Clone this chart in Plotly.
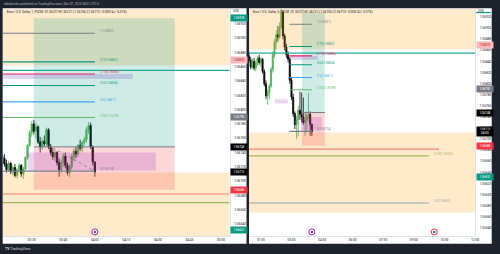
import plotly.graph_objects as go
import pandas as pd

DAY = "2023-03-07 "

# ---------------- data: left panel (EURUSD, 1 minute) ----------------
left_start = "03:16"
left_open = [1.06735, 1.06732, 1.06724, 1.06716, 1.06725, 1.06713, 1.06719, 1.06708, 1.06716, 1.06722,
             1.06710, 1.06717, 1.06733, 1.06750, 1.06768, 1.06780, 1.06770, 1.06776, 1.06755, 1.06748,
             1.06756, 1.06752, 1.06772, 1.06748, 1.06740, 1.06734, 1.06740, 1.06726, 1.06716, 1.06726,
             1.06735, 1.06722, 1.06712, 1.06720, 1.06734, 1.06742, 1.06738, 1.06750, 1.06746, 1.06754,
             1.06758, 1.06772, 1.06778, 1.06748, 1.06727]
left_high = [1.06742, 1.06738, 1.06730, 1.06728, 1.06727, 1.06722, 1.06724, 1.06718, 1.06726, 1.06724,
             1.06720, 1.06735, 1.06752, 1.06772, 1.06784, 1.06786, 1.06782, 1.06778, 1.06762, 1.06760,
             1.06764, 1.06775, 1.06774, 1.06752, 1.06746, 1.06744, 1.06742, 1.06732, 1.06730, 1.06738,
             1.06740, 1.06726, 1.06724, 1.06738, 1.06746, 1.06748, 1.06752, 1.06758, 1.06756, 1.06762,
             1.06776, 1.06783, 1.06782, 1.06750, 1.06727]
left_low = [1.06728, 1.06720, 1.06712, 1.06714, 1.06710, 1.06708, 1.06705, 1.06704, 1.06712, 1.06706,
            1.06703, 1.06715, 1.06730, 1.06748, 1.06762, 1.06765, 1.06760, 1.06752, 1.06740, 1.06744,
            1.06748, 1.06750, 1.06745, 1.06736, 1.06730, 1.06728, 1.06722, 1.06706, 1.06712, 1.06720,
            1.06718, 1.06708, 1.06706, 1.06716, 1.06728, 1.06732, 1.06734, 1.06742, 1.06740, 1.06750,
            1.06754, 1.06766, 1.06745, 1.06722, 1.06706]
left_close = [1.06732, 1.06724, 1.06716, 1.06725, 1.06713, 1.06719, 1.06708, 1.06716, 1.06722, 1.06710,
              1.06717, 1.06733, 1.06750, 1.06768, 1.06780, 1.06770, 1.06776, 1.06755, 1.06748, 1.06756,
              1.06752, 1.06772, 1.06748, 1.06740, 1.06734, 1.06740, 1.06726, 1.06716, 1.06726, 1.06735,
              1.06722, 1.06712, 1.06720, 1.06734, 1.06742, 1.06738, 1.06750, 1.06746, 1.06754, 1.06758,
              1.06772, 1.06778, 1.06748, 1.06727, 1.06713]

# ---------------- data: right panel (EURUSD, 5 minutes) ----------------
right_start = "00:55"
right_open = [1.06850, 1.06842, 1.06830, 1.06840, 1.06828, 1.06838, 1.06846, 1.06838, 1.06844, 1.06822,
              1.06800, 1.06778, 1.06784, 1.06796, 1.06826, 1.06852, 1.06874, 1.06888, 1.06884, 1.06902,
              1.06928, 1.06886, 1.06866, 1.06852, 1.06844, 1.06806, 1.06776, 1.06746, 1.06726, 1.06735,
              1.06752, 1.06745, 1.06740, 1.06730, 1.06734, 1.06742, 1.06745, 1.06727]
right_high = [1.06858, 1.06848, 1.06845, 1.06846, 1.06842, 1.06850, 1.06852, 1.06848, 1.06846, 1.06826,
              1.06806, 1.06790, 1.06800, 1.06830, 1.06858, 1.06880, 1.06896, 1.06904, 1.06910, 1.06936,
              1.06932, 1.06890, 1.06872, 1.06858, 1.06848, 1.06812, 1.06782, 1.06750, 1.06742, 1.06760,
              1.06786, 1.06784, 1.06775, 1.06746, 1.06750, 1.06783, 1.06750, 1.06727]
right_low = [1.06838, 1.06826, 1.06826, 1.06824, 1.06822, 1.06832, 1.06834, 1.06830, 1.06818, 1.06795,
             1.06772, 1.06762, 1.06772, 1.06792, 1.06820, 1.06846, 1.06862, 1.06876, 1.06880, 1.06898,
             1.06880, 1.06860, 1.06846, 1.06838, 1.06800, 1.06770, 1.06740, 1.06718, 1.06700, 1.06705,
             1.06735, 1.06730, 1.06726, 1.06706, 1.06712, 1.06736, 1.06706, 1.06706]
right_close = [1.06842, 1.06830, 1.06840, 1.06828, 1.06838, 1.06846, 1.06838, 1.06844, 1.06822, 1.06800,
               1.06778, 1.06784, 1.06796, 1.06826, 1.06852, 1.06874, 1.06888, 1.06884, 1.06902, 1.06928,
               1.06886, 1.06866, 1.06852, 1.06844, 1.06806, 1.06776, 1.06746, 1.06726, 1.06735, 1.06752,
               1.06745, 1.06740, 1.06730, 1.06734, 1.06742, 1.06745, 1.06727, 1.06713]

# price-axis tick range per panel
left_ticks = (1.06640, 1.06920)
right_ticks = (1.06540, 1.06920)
tick_step = 0.0002

# ---------------- drawings ----------------
fib_levels = ["1", "0.79", "0.705", "0.62", "0.5", "0.382", "0"]
fib_prices = [1.06907, 1.06867, 1.06850, 1.06834, 1.06811, 1.06789, 1.06714]
fib_colors = ["#787b86", "#089981", "#e91e63", "#089981", "#42a5f5", "#66bb6a", "#787b86"]
fib_span = ["02:54", "04:00"]

fib2_levels = ["0.382", "0.5"]
fib2_prices = [1.06670, 1.06585]
fib2_colors = ["#9cb95a", "#90a4ae"]
fib2_span = ["00:00", "09:44"]

zones = [(1.06862, 1.07000), (1.06568, 1.06712)]          # supply / demand zones (full width)
position_span = ["03:31", "04:38"]
position_entry, position_target, position_stop = 1.06748, 1.06928, 1.06688
purple_box = ("03:28", "04:29", 1.06715, 1.06740)
lavender_band = ("02:57", "04:18", 1.06843, 1.06850)
small_box = ("02:11", "02:49", 1.06764, 1.06772)
teal_level = 1.06855
salmon_ray = ("00:00", "10:11", 1.06682)
trade_path = ("03:40", 1.06747, "04:00", 1.06714)

target_tag = (1.06928, "1.06928", "#089981", "white")
axis_tags = [(1.06870, "1.06870", "#f7b9b9", "#b71c1c"),
             (1.06790, "1.06790", "#787b86", "white"),
             (1.06748, "1.06748", "#000000", "white"),
             (1.06688, "1.06688", "#f23645", "white"),
             (1.06632, "1.06632", "#089981", "white")]
last_price = 1.06713
event_times_left = ["04:00"]
event_times_right = ["04:00", "10:00"]

legend_left = "Euro / U.S. Dollar, 1, FXCM  O1.06727 H1.06727 L1.06706 C1.06713 −0.00014 (−0.01%)"
legend_right = "Euro / U.S. Dollar, 5, FXCM  O1.06727 H1.06727 L1.06706 C1.06713 −0.00014 (−0.01%)"
header = "tabiahmike published on TradingView.com, Mar 07, 2023 04:01 UTC-5"

# ---------------- figure ----------------
W, H = 500, 254
def px(x):
    return x / W
def py(y):
    return 1 - y / H

T = lambda s: DAY + s
UP, DOWN = "#4caf50", "#000000"
FONT = "Roboto"
DARK = "#1e222d"

left_times = pd.date_range(T(left_start), periods=len(left_open), freq="1min")
right_times = pd.date_range(T(right_start), periods=len(right_open), freq="5min")

def tick_list(lo, hi):
    n = int(round((hi - lo) / tick_step))
    return [round(lo + tick_step * i, 5) for i in range(n + 1)]

fig = go.Figure()
for xs, o, h, l, c, xa, ya in [(left_times, left_open, left_high, left_low, left_close, "x", "y"),
                               (right_times, right_open, right_high, right_low, right_close, "x2", "y2")]:
    fig.add_trace(go.Candlestick(
        x=xs, open=o, high=h, low=l, close=c, xaxis=xa, yaxis=ya,
        increasing=dict(line=dict(color=UP, width=0.8), fillcolor=UP),
        decreasing=dict(line=dict(color=DOWN, width=0.8), fillcolor=DOWN),
        showlegend=False, hoverinfo="skip"))

shapes = []
annotations = []

# panel backgrounds (frame)
for x0, x1 in [(2.7, 248.5), (251, 495.7)]:
    shapes.append(dict(type="rect", xref="paper", yref="paper", x0=px(x0), x1=px(x1),
                       y0=py(243.7), y1=py(8.3), fillcolor="white", line=dict(width=0), layer="below"))

YD = [py(236), py(9)]
panels = [dict(x="x", y="y", dom=[px(3), px(231.5)], axx=231.5, leg=legend_left, events=event_times_left),
          dict(x="x2", y="y2", dom=[px(251), px(479)], axx=479, leg=legend_right, events=event_times_right)]

for p in panels:
    xr, yr = p["x"], p["y"]
    xd, yd = xr + " domain", yr + " domain"
    # zones
    for lo, hi in zones:
        shapes.append(dict(type="rect", xref=xd, yref=yr, x0=0, x1=1, y0=lo, y1=hi,
                           fillcolor="rgba(255,152,0,0.2)", line=dict(width=0)))
    # position tool
    shapes.append(dict(type="rect", xref=xr, yref=yr, x0=T(position_span[0]), x1=T(position_span[1]),
                       y0=position_entry, y1=position_target, fillcolor="rgba(8,153,129,0.2)", line=dict(width=0)))
    shapes.append(dict(type="rect", xref=xr, yref=yr, x0=T(position_span[0]), x1=T(position_span[1]),
                       y0=position_stop, y1=position_entry, fillcolor="rgba(242,54,69,0.2)", line=dict(width=0)))
    shapes.append(dict(type="line", xref=xr, yref=yr, x0=T(position_span[0]), x1=T(position_span[1]),
                       y0=position_entry, y1=position_entry, line=dict(color="#787b86", width=1)))
    # purple boxes
    for (a, b, lo, hi), col in [(purple_box, "rgba(156,39,176,0.2)"),
                                (lavender_band, "rgba(126,87,194,0.25)"),
                                (small_box, "rgba(156,39,176,0.2)")]:
        shapes.append(dict(type="rect", xref=xr, yref=yr, x0=T(a), x1=T(b), y0=lo, y1=hi,
                           fillcolor=col, line=dict(width=0)))
    shapes.append(dict(type="line", xref=xr, yref=yr, x0=T(trade_path[0]), y0=trade_path[1],
                       x1=T(trade_path[2]), y1=trade_path[3], line=dict(color="#787b86", width=0.8, dash="dot")))
    # teal level
    shapes.append(dict(type="line", xref=xd, yref=yr, x0=0, x1=1, y0=teal_level, y1=teal_level,
                       line=dict(color="#22ab94", width=1.3)))
    # salmon ray
    shapes.append(dict(type="line", xref=xr, yref=yr, x0=T(salmon_ray[0]), x1=T(salmon_ray[1]),
                       y0=salmon_ray[2], y1=salmon_ray[2], line=dict(color="#f9a48a", width=1.6)))
    shapes.append(dict(type="circle", xref=xr, yref=yr, xsizemode="pixel", ysizemode="pixel",
                       xanchor=T(salmon_ray[1]), yanchor=salmon_ray[2], x0=-1.2, x1=1.2, y0=-1.2, y1=1.2,
                       fillcolor="#f9a48a", line=dict(width=0)))
    # fib 1
    for lvl, pr, col in zip(fib_levels, fib_prices, fib_colors):
        shapes.append(dict(type="line", xref=xr, yref=yr, x0=T(fib_span[0]), x1=T(fib_span[1]),
                           y0=pr, y1=pr, line=dict(color=col, width=1.1)))
        annotations.append(dict(xref=xr, yref=yr, x=T(fib_span[1]), y=pr, text=f"{lvl}({pr:.5f})",
                                showarrow=False, xanchor="left", yanchor="middle", xshift=3, yshift=2,
                                font=dict(size=2.8, color=col, family=FONT)))
    # fib 2
    for lvl, pr, col in zip(fib2_levels, fib2_prices, fib2_colors):
        shapes.append(dict(type="line", xref=xr, yref=yr, x0=T(fib2_span[0]), x1=T(fib2_span[1]),
                           y0=pr, y1=pr, line=dict(color=col, width=1.2)))
        annotations.append(dict(xref=xr, yref=yr, x=T(fib2_span[1]), y=pr, text=f"{lvl}({pr:.5f})",
                                showarrow=False, xanchor="left", yanchor="middle", xshift=3, yshift=2,
                                font=dict(size=2.8, color=col, family=FONT)))
    # event markers
    for i, et in enumerate(p["events"]):
        col = "#9c27b0" if i == 0 else "#e53935"
        shapes.append(dict(type="circle", xref=xr, yref=yd, xsizemode="pixel", ysizemode="pixel",
                           xanchor=T(et), yanchor=0.018, x0=-3, x1=3, y0=-3, y1=3,
                           fillcolor="white", line=dict(color=col, width=1)))
        shapes.append(dict(type="circle", xref=xr, yref=yd, xsizemode="pixel", ysizemode="pixel",
                           xanchor=T(et), yanchor=0.018, x0=-1.2, x1=1.2, y0=-1.2, y1=1.2,
                           fillcolor=col if i == 0 else "#1e63c8", line=dict(width=0)))
    # axis tags
    ax0 = px(p["axx"] + 0.8)
    tags = ([target_tag] if xr == "x" else []) + axis_tags
    for pr, txt, bg, fg in tags:
        annotations.append(dict(xref="paper", yref=yr, x=ax0, y=pr, text=txt, showarrow=False,
                                xanchor="left", yanchor="middle", bgcolor=bg, width=15, height=4.5,
                                borderpad=0.5, font=dict(size=3, color=fg, family=FONT)))
    if xr == "x2":
        # target tag sits under the currency label on this panel: only its edge shows
        shapes.append(dict(type="line", xref="paper", yref=yr, x0=ax0, x1=ax0 + px(15),
                           y0=target_tag[0], y1=target_tag[0], line=dict(color=target_tag[2], width=1.2)))
    last_txt = "1.06713" if xr == "x" else "1.06713<br>04:00"
    annotations.append(dict(xref="paper", yref=yr, x=ax0, y=last_price, text=last_txt, showarrow=False,
                            xanchor="left", yanchor="middle", bgcolor="#000000", width=15,
                            height=4.5 if xr == "x" else 7.5, borderpad=0.5,
                            font=dict(size=3, color="white", family=FONT)))
    annotations.append(dict(xref="paper", yref="paper", x=ax0 + px(1.5), y=py(11), text="USD",
                            showarrow=False, xanchor="left", yanchor="middle", borderpad=0,
                            font=dict(size=3, color="#131722", family=FONT)))
    # legend line
    annotations.append(dict(xref="paper", yref="paper", x=p["dom"][0] + px(2), y=py(11.5), text=p["leg"],
                            showarrow=False, xanchor="left", yanchor="middle",
                            font=dict(size=3.1, color="#131722", family=FONT)))

annotations.append(dict(xref="paper", yref="paper", x=px(2.5), y=py(4), text=header, showarrow=False,
                        xanchor="left", yanchor="middle", font=dict(size=3.1, color="#b2b5be", family=FONT)))
annotations.append(dict(xref="paper", yref="paper", x=px(3), y=py(249.3), text="<b>TV</b> TradingView",
                        showarrow=False, xanchor="left", yanchor="middle",
                        font=dict(size=3.6, color="#d1d4dc", family=FONT)))

axis_common = dict(showgrid=False, zeroline=False, showline=True, linecolor="#e0e3eb", linewidth=0.8,
                   ticks="", tickfont=dict(size=3.2, color="#131722", family=FONT), fixedrange=True)

fig.update_layout(
    width=W, height=H, margin=dict(l=0, r=0, t=0, b=0),
    paper_bgcolor=DARK, plot_bgcolor="white", showlegend=False,
    boxgap=0.2, boxgroupgap=0.2,
    xaxis=dict(domain=panels[0]["dom"], anchor="y", type="date",
               range=[T("03:16:19"), T("05:04:06")], dtick=15 * 60 * 1000, tick0=T("00:00"),
               tickformat="%H:%M", rangeslider=dict(visible=False), **axis_common),
    yaxis=dict(domain=YD, anchor="x", side="right", range=[1.066232, 1.069410],
               tickmode="array", tickvals=tick_list(*left_ticks), tickformat=".5f",
               ticklabelstandoff=3, **axis_common),
    xaxis2=dict(domain=panels[1]["dom"], anchor="y2", type="date",
                range=[T("00:55"), T("12:00:30")], dtick=90 * 60 * 1000, tick0=T("00:00"),
                tickformat="%H:%M", rangeslider=dict(visible=False), **axis_common),
    yaxis2=dict(domain=YD, anchor="x2", side="right", range=[1.065256, 1.069344],
                tickmode="array", tickvals=tick_list(*right_ticks), tickformat=".5f",
                ticklabelstandoff=3, **axis_common),
    shapes=shapes, annotations=annotations,
)

fig.write_html("out.html")
